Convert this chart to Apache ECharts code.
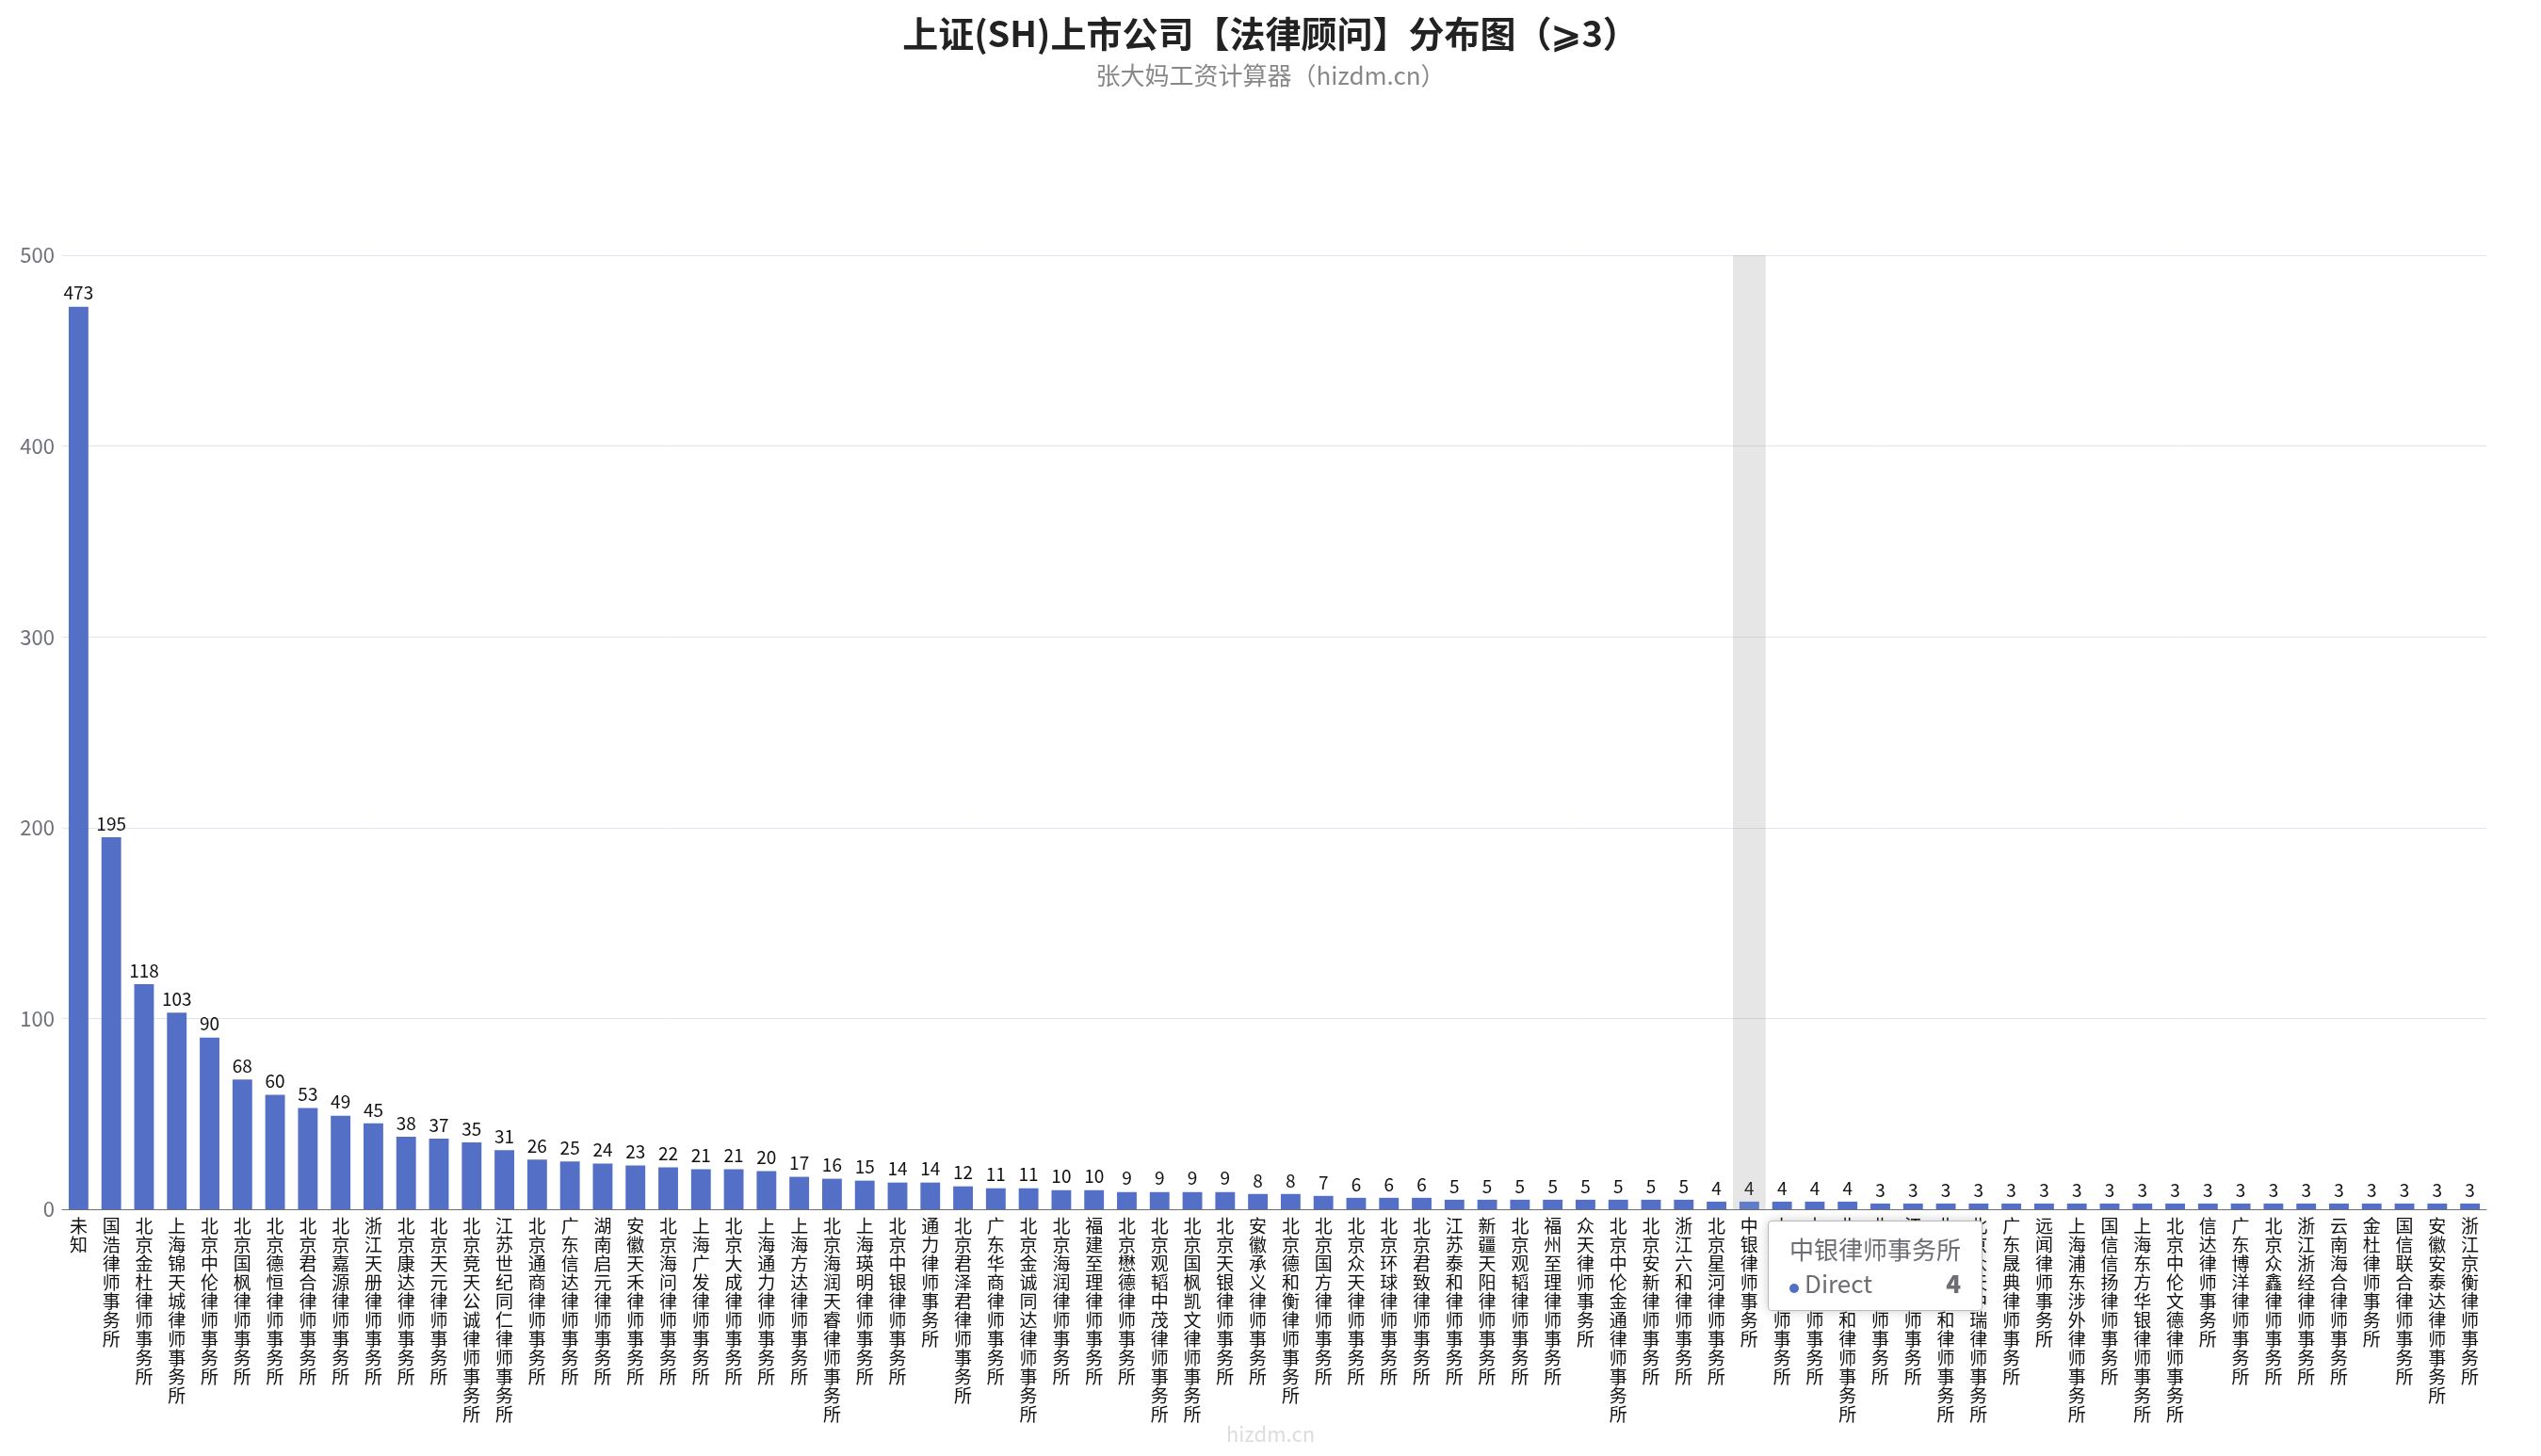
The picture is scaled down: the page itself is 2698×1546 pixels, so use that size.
<!DOCTYPE html>
<html><head><meta charset="utf-8">
<script src="https://cdn.jsdelivr.net/npm/echarts@6/dist/echarts.min.js"></script>
<style>html,body{margin:0;padding:0;background:#fff}#c{width:2698px;height:1546px}</style>
</head><body><div id="c"></div>
<script>
const categories = ["未知","国浩律师事务所","北京金杜律师事务所","上海锦天城律师事务所","北京中伦律师事务所","北京国枫律师事务所","北京德恒律师事务所","北京君合律师事务所","北京嘉源律师事务所","浙江天册律师事务所","北京康达律师事务所","北京天元律师事务所","北京竞天公诚律师事务所","江苏世纪同仁律师事务所","北京通商律师事务所","广东信达律师事务所","湖南启元律师事务所","安徽天禾律师事务所","北京海问律师事务所","上海广发律师事务所","北京大成律师事务所","上海通力律师事务所","上海方达律师事务所","北京海润天睿律师事务所","上海瑛明律师事务所","北京中银律师事务所","通力律师事务所","北京君泽君律师事务所","广东华商律师事务所","北京金诚同达律师事务所","北京海润律师事务所","福建至理律师事务所","北京懋德律师事务所","北京观韬中茂律师事务所","北京国枫凯文律师事务所","北京天银律师事务所","安徽承义律师事务所","北京德和衡律师事务所","北京国方律师事务所","北京众天律师事务所","北京环球律师事务所","北京君致律师事务所","江苏泰和律师事务所","新疆天阳律师事务所","北京观韬律师事务所","福州至理律师事务所","众天律师事务所","北京中伦金通律师事务所","北京安新律师事务所","浙江六和律师事务所","北京星河律师事务所","中银律师事务所","上海联合律师事务所","山东琴岛律师事务所","北京浩天信和律师事务所","北京共和律师事务所","江苏金禾律师事务所","北京时代九和律师事务所","北京众天中瑞律师事务所","广东晟典律师事务所","远闻律师事务所","上海浦东涉外律师事务所","国信信扬律师事务所","上海东方华银律师事务所","北京中伦文德律师事务所","信达律师事务所","广东博洋律师事务所","北京众鑫律师事务所","浙江浙经律师事务所","云南海合律师事务所","金杜律师事务所","国信联合律师事务所","安徽安泰达律师事务所","浙江京衡律师事务所"];
const values = [473,195,118,103,90,68,60,53,49,45,38,37,35,31,26,25,24,23,22,21,21,20,17,16,15,14,14,12,11,11,10,10,9,9,9,9,8,8,7,6,6,6,5,5,5,5,5,5,5,5,4,4,4,4,4,3,3,3,3,3,3,3,3,3,3,3,3,3,3,3,3,3,3,3];
const yTicks = [0,100,200,300,400,500];
const font = '"Noto Sans CJK SC","Noto Sans",sans-serif';
const chart = echarts.init(document.getElementById('c'));
chart.setOption({
  animation:false,
  textStyle:{fontFamily:font},
  title:{text:'上证(SH)上市公司【法律顾问】分布图（⩾3）',subtext:'张大妈工资计算器（hizdm.cn）',left:'center',top:12,itemGap:12,
    textStyle:{fontSize:38,fontWeight:'bold',color:'#222',fontFamily:font},subtextStyle:{fontSize:26,color:'#888',fontFamily:font}},
  graphic:[{type:'text',left:'center',bottom:12,style:{text:'hizdm.cn',fontSize:22,fill:'#ddd',fontFamily:font}}],
  tooltip:{trigger:'axis',axisPointer:{type:'shadow'},textStyle:{fontSize:26,fontFamily:font},padding:[16,22],extraCssText:'box-shadow:0 0 12px rgba(0,0,0,0.2);'},
  grid:{left:66,right:58,top:271,bottom:262},
  xAxis:{type:'category',data:categories,axisTick:{show:false},axisLine:{lineStyle:{color:'#6e7079'}},
    axisLabel:{interval:0,fontSize:19,lineHeight:20,color:'#111',formatter:v=>v.split('').join('\n'),verticalAlign:'top'}},
  yAxis:{type:'value',min:0,max:500,interval:100,axisLabel:{fontSize:22,color:'#6e7079',formatter:v=>yTicks.includes(v)?String(v):''},splitLine:{lineStyle:{color:'#e0e6f1'}}},
  series:[{name:'Direct',type:'bar',data:values,barWidth:'60%',itemStyle:{color:'#5470c6'},
    label:{show:true,position:'top',fontSize:19,color:'#111'}}]
});
chart.dispatchAction({type:'showTip',seriesIndex:0,dataIndex:51});
</script></body></html>
